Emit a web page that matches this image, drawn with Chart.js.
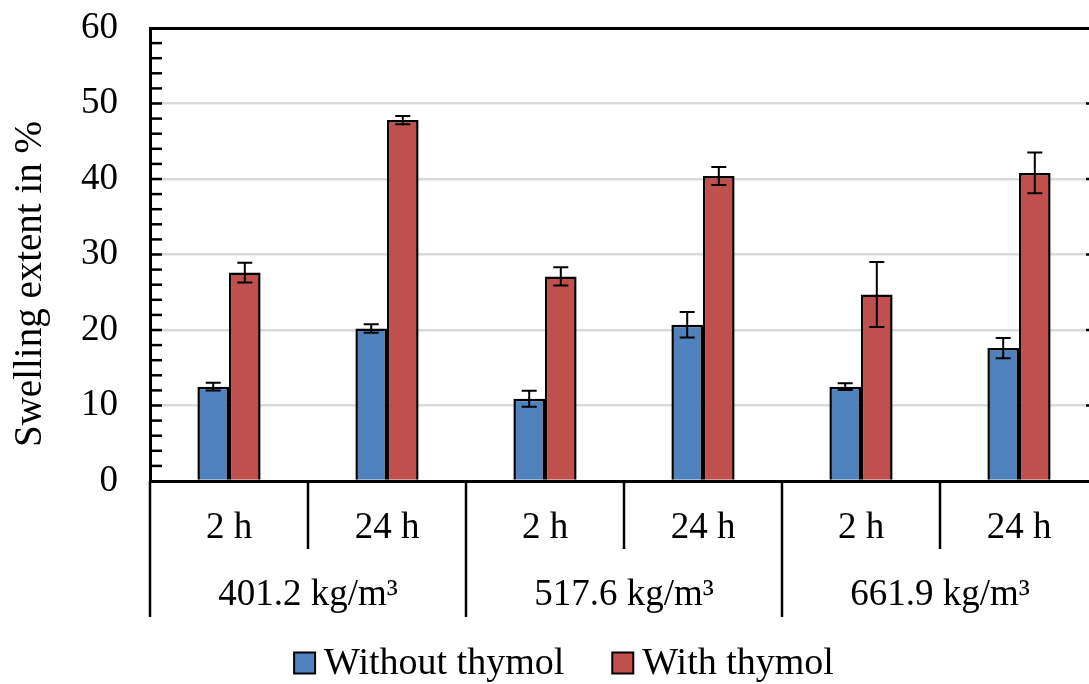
<!DOCTYPE html>
<html>
<head>
<meta charset="utf-8">
<script src="https://cdn.jsdelivr.net/npm/chart.js@4.4.0/dist/chart.umd.min.js"></script>
<style>
html, body { margin: 0; padding: 0; background: #fff; overflow: hidden; }
#wrap { position: absolute; left: 0; top: 0; width: 1100px; height: 684px; }
</style>
</head>
<body>
<div id="wrap"><canvas id="swelling" width="1100" height="684"></canvas></div>
<script>
var hours = ['2 h', '24 h', '2 h', '24 h', '2 h', '24 h'];
var densities = ['401.2 kg/m³', '517.6 kg/m³', '661.9 kg/m³'];
var withoutThymol = [12.5, 20.2, 10.9, 20.7, 12.5, 17.6];
var withoutThymolErr = [0.5, 0.55, 1.05, 1.7, 0.45, 1.35];
var withThymol = [27.6, 47.8, 27.1, 40.4, 24.7, 40.8];
var withThymolErr = [1.3, 0.55, 1.2, 1.2, 4.3, 2.7];
var yTitle = 'Swelling extent in %';

var FONT = '"Liberation Serif", "Times New Roman", serif';

// error bars, category separators, group labels, inner ticks, axis title, legend
var extras = {
  id: 'extras',
  afterDraw: function(chart) {
    var ctx = chart.ctx;
    var area = chart.chartArea;
    var x = chart.scales.x, y = chart.scales.y;
    ctx.save();
    ctx.strokeStyle = '#000';
    ctx.fillStyle = '#000';

    // error bars
    ctx.lineWidth = 2;
    chart.data.datasets.forEach(function(ds, di) {
      var meta = chart.getDatasetMeta(di);
      meta.data.forEach(function(bar, i) {
        var top = y.getPixelForValue(ds.data[i] + ds.errors[i]);
        var bot = y.getPixelForValue(ds.data[i] - ds.errors[i]);
        ctx.beginPath();
        ctx.moveTo(bar.x, top); ctx.lineTo(bar.x, bot);
        ctx.moveTo(bar.x - 7.5, top); ctx.lineTo(bar.x + 7.5, top);
        ctx.moveTo(bar.x - 7.5, bot); ctx.lineTo(bar.x + 7.5, bot);
        ctx.stroke();
      });
    });

    // tick marks pointing into the plot
    ctx.lineWidth = 2.5;
    for (var v = 2; v < 60; v += 2) {
      var py = y.getPixelForValue(v);
      ctx.beginPath();
      ctx.moveTo(area.left, py); ctx.lineTo(area.left + 12, py);
      if (v % 10 === 0) { ctx.moveTo(area.right, py); ctx.lineTo(area.right - 12, py); }
      ctx.stroke();
    }
    ctx.lineWidth = 3;
    ctx.beginPath();
    ctx.moveTo(area.right, area.top); ctx.lineTo(area.right, area.bottom);
    ctx.stroke();

    // category separators
    ctx.lineWidth = 2.5;
    var step = x.getPixelForValue(1) - x.getPixelForValue(0);
    for (var k = 0; k <= hours.length; k++) {
      var sx = x.getPixelForValue(0) - step / 2 + k * step;
      ctx.beginPath();
      ctx.moveTo(sx, area.bottom);
      ctx.lineTo(sx, k % 2 === 0 ? 617 : 549);
      ctx.stroke();
    }

    // density labels
    ctx.font = '37px ' + FONT;
    ctx.textAlign = 'center';
    ctx.textBaseline = 'middle';
    densities.forEach(function(d, g) {
      var cx = (x.getPixelForValue(2 * g) + x.getPixelForValue(2 * g + 1)) / 2;
      ctx.fillText(d, cx, 595);
    });

    // y axis title
    ctx.save();
    ctx.font = '39px ' + FONT;
    ctx.translate(31, 284);
    ctx.rotate(-Math.PI / 2);
    ctx.fillText(yTitle, 0, 0);
    ctx.restore();

    // legend
    ctx.font = '38px ' + FONT;
    var items = chart.data.datasets;
    var box = 21, gapText = 9, gapItem = 48;
    var widths = items.map(function(ds) { return box + gapText + ctx.measureText(ds.label).width; });
    var total = widths.reduce(function(a, b) { return a + b; }, 0) + gapItem * (items.length - 1);
    var lx = 564 - total / 2;
    var ly = 663;
    ctx.textAlign = 'left';
    items.forEach(function(ds, i) {
      ctx.fillStyle = ds.backgroundColor;
      ctx.fillRect(lx, ly - 10.5, box, 21);
      ctx.lineWidth = 2;
      ctx.strokeRect(lx, ly - 10.5, box, 21);
      ctx.fillStyle = '#000';
      ctx.fillText(ds.label, lx + box + gapText, ly + 1);
      lx += widths[i] + gapItem;
    });
    ctx.restore();
  }
};

new Chart(document.getElementById('swelling'), {
  type: 'bar',
  data: {
    labels: hours,
    datasets: [
      { label: 'Without thymol', data: withoutThymol, errors: withoutThymolErr,
        backgroundColor: '#4f81bd', borderColor: '#000', borderWidth: 2.5 },
      { label: 'With thymol', data: withThymol, errors: withThymolErr,
        backgroundColor: '#c0504d', borderColor: '#000', borderWidth: 2.5 }
    ]
  },
  options: {
    responsive: false,
    animation: false,
    layout: { padding: { left: 7, top: 28, right: 2, bottom: 53 } },
    datasets: { bar: { categoryPercentage: 0.4, barPercentage: 1 } },
    plugins: { legend: { display: false }, tooltip: { enabled: false } },
    scales: {
      x: {
        grid: { display: false },
        border: { color: '#000', width: 3 },
        ticks: { color: '#000', font: { size: 37, family: FONT }, padding: 17, maxRotation: 0, autoSkip: false },
        afterFit: function(s) { s.height = 150; s.paddingLeft = 0; s.paddingRight = 0; }
      },
      y: {
        min: 0, max: 60,
        ticks: { stepSize: 10, color: '#000', font: { size: 37, family: FONT }, padding: 32 },
        grid: {
          drawTicks: false,
          color: function(c) { return c.tick.value === 60 ? '#000' : (c.tick.value === 0 ? 'rgba(0,0,0,0)' : '#d9d9d9'); },
          lineWidth: function(c) { return c.tick.value === 60 ? 3 : 2.5; }
        },
        border: { color: '#000', width: 3 },
        afterFit: function(s) { s.width = 143; s.paddingTop = 0; s.paddingBottom = 0; }
      }
    }
  },
  plugins: [extras]
});
</script>
</body>
</html>
